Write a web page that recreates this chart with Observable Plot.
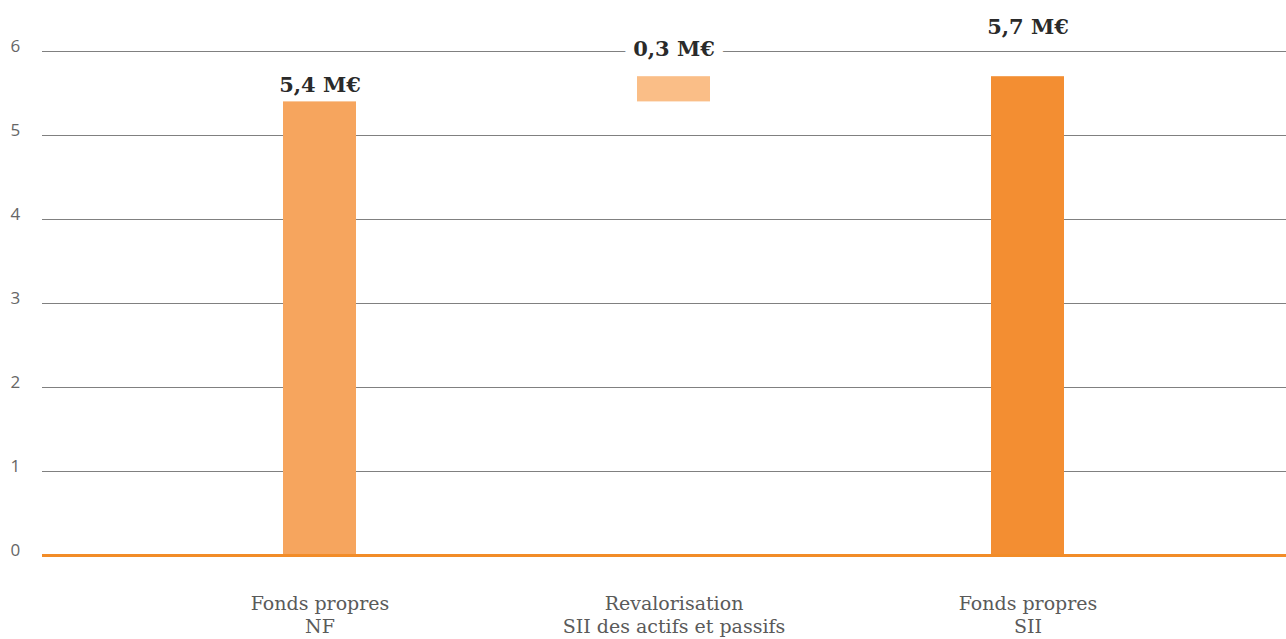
<!DOCTYPE html>
<html>
<head>
<meta charset="utf-8">
<script src="https://cdn.jsdelivr.net/npm/d3@7"></script>
<script src="https://cdn.jsdelivr.net/npm/@observablehq/plot@0.6"></script>
<style>
  html, body { margin: 0; padding: 0; background: #fff; }
  #chart svg { display: block; }
</style>
</head>
<body>
<div id="chart"></div>
<script>
// Passage des fonds propres normes françaises aux fonds propres Solvabilité II (M€)
const categories = ["Fonds propres\nNF", "Revalorisation\nSII des actifs et passifs", "Fonds propres\nSII"];
const starts = [0, 5.4, 0];
const ends = [5.4, 5.7, 5.7];
const valueLabels = ["5,4 M€", "0,3 M€", "5,7 M€"];
const colors = ["#f6a55e", "#fabe87", "#f38e32"];
const yTicks = [0, 1, 2, 3, 4, 5, 6];

const rows = categories.map((c, i) => ({
  i, cat: c, y1: starts[i], y2: ends[i], label: valueLabels[i], color: colors[i]
}));

// label lift above each bar top, in pixels
const labelLift = [17, 27, 49];

const y0px = 555, y6px = 51;
const unit = (y0px - y6px) / 6;

const serif = "'DejaVu Serif', 'Liberation Serif', serif";

const labelOpts = {
  x: "cat",
  y: d => d.y2 + labelLift[d.i] / unit,
  text: "label",
  fontFamily: serif, fontWeight: "bold", fontSize: 21, fill: "#2a2a2a"
};

const chart = Plot.plot({
  width: 1286,
  height: 639,
  marginTop: 51,
  marginBottom: 84,
  marginLeft: 42,
  marginRight: 0,
  style: { fontFamily: serif, background: "#fff" },
  x: { domain: categories, range: [141, 1205], paddingInner: 0.794, paddingOuter: 0.397, label: null },
  y: { domain: [0, 6], label: null, axis: null },
  marks: [
    Plot.ruleY(yTicks.filter(d => d > 0), { stroke: "#808080", strokeWidth: 1 }),
    Plot.barY(rows, { x: "cat", y1: "y1", y2: "y2", fill: "color" }),
    Plot.ruleY([0], { stroke: "#f28c28", strokeWidth: 3 }),
    Plot.text(yTicks, {
      y: d => d, frameAnchor: "left", dx: -32, dy: -5, textAnchor: "start",
      text: d => String(d), fontFamily: "'Open Sans', sans-serif", fontSize: 17, fill: "#666"
    }),
    // the bridge label sits on the top gridline, so it gets a white knock-out
    Plot.text(rows.filter(d => d.i === 1), {
      ...labelOpts, stroke: "white", strokeWidth: 18, paintOrder: "stroke"
    }),
    Plot.text(rows.filter(d => d.i !== 1), labelOpts),
    Plot.axisX({
      tickSize: 0, tickPadding: 38, fontSize: 19, lineHeight: 1.22,
      fontFamily: serif, color: "#5a5a5a", label: null
    })
  ]
});

document.getElementById("chart").append(chart);
</script>
</body>
</html>
